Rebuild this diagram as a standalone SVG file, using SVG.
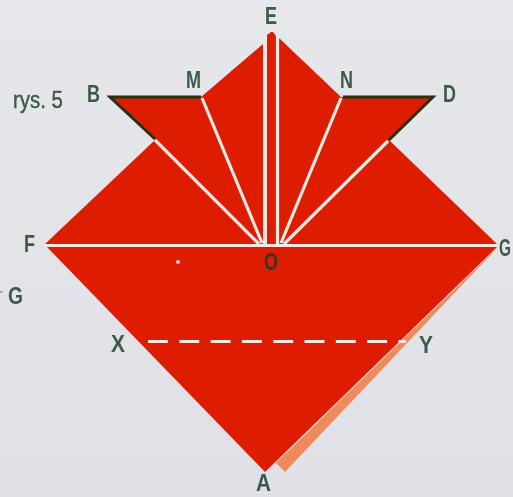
<svg xmlns="http://www.w3.org/2000/svg" width="513" height="497" viewBox="0 0 513 497">
<defs>
<filter id="soft" x="-5%" y="-5%" width="110%" height="110%"><feGaussianBlur stdDeviation="0.55"/></filter>
<linearGradient id="bg" x1="0" y1="0" x2="0" y2="1"><stop offset="0" stop-color="#e6e7eb"/><stop offset="1" stop-color="#e0e0e6"/></linearGradient>
</defs>
<style>
.fold{stroke:#efe9e6;stroke-width:3.2;fill:none}
.edge{stroke:#263216;stroke-width:3;fill:none}
.lb{font-family:"Liberation Sans",Arial,sans-serif;font-weight:700;font-size:23px;fill:#3d5a4a}
</style>
<rect width="513" height="497" fill="url(#bg)"/>
<g filter="url(#soft)">
<g id="paper">
<polygon points="285,472 497,248 276,463" fill="#ee8a5c"/>
<polygon points="45,244 155,140 109,97 201,97 263,44 263,244 279,244 279,38 341,97 434,97 389,140 497,244" fill="#de1c00"/>
<polygon points="267,244 267,35 271,32 273,32 276,36 276,244" fill="#de1c00"/>
<polygon points="47,247 497,247 265,472" fill="#de1c00"/>
</g>
<g id="connectors">
<line class="fold" x1="44" y1="245.500" x2="497" y2="245.500" stroke-width="4"/>
<line class="fold" x1="265" y1="36" x2="265" y2="245" stroke-width="3.600"/>
<line class="fold" x1="277.500" y1="36" x2="277.500" y2="245" stroke-width="3.600"/>
<line class="fold" x1="202" y1="98" x2="262" y2="243"/>
<line class="fold" x1="155" y1="140" x2="259" y2="244"/>
<line class="fold" x1="341" y1="98" x2="281" y2="243"/>
<line class="fold" x1="388" y1="141" x2="284" y2="244"/>
<line class="fold" x1="148" y1="341.500" x2="406" y2="341.500" stroke-width="3" stroke-dasharray="20 11.300"/>
<polyline class="edge" points="155,139 110,97 201,97"/>
<polyline class="edge" points="343,97 433,97 389,140"/>
</g>
<circle cx="178" cy="262" r="2" fill="#f3d4c4"/>
<rect x="0" y="291" width="2.500" height="1.500" fill="#e96a30"/>
</g>
<g filter="url(#soft)">
<g id="label-rys"><text class="lb" x="13" y="108" textLength="50" lengthAdjust="spacingAndGlyphs" style="font-weight:400;stroke:#3d5a4a;stroke-width:.4px">rys. 5</text></g>
<g id="node-B"><text class="lb" x="87" y="102" textLength="13" lengthAdjust="spacingAndGlyphs">B</text></g>
<g id="node-M"><text class="lb" x="186" y="88" textLength="15" lengthAdjust="spacingAndGlyphs">M</text></g>
<g id="node-E"><text class="lb" x="265" y="24" textLength="12" lengthAdjust="spacingAndGlyphs">E</text></g>
<g id="node-N"><text class="lb" x="340" y="88" textLength="13" lengthAdjust="spacingAndGlyphs">N</text></g>
<g id="node-D"><text class="lb" x="443" y="102" textLength="13" lengthAdjust="spacingAndGlyphs">D</text></g>
<g id="node-F"><text class="lb" x="24" y="252" textLength="11" lengthAdjust="spacingAndGlyphs">F</text></g>
<g id="node-O"><text class="lb" x="264" y="270" textLength="14" lengthAdjust="spacingAndGlyphs" style="fill:#2e3a22">O</text></g>
<g id="node-G-right"><text class="lb" x="499" y="256" textLength="12" lengthAdjust="spacingAndGlyphs">G</text></g>
<g id="node-G-left"><text class="lb" x="8" y="304" textLength="15" lengthAdjust="spacingAndGlyphs">G</text></g>
<g id="node-X"><text class="lb" x="111" y="352" textLength="14" lengthAdjust="spacingAndGlyphs">X</text></g>
<g id="node-Y"><text class="lb" x="419" y="353" textLength="14" lengthAdjust="spacingAndGlyphs">Y</text></g>
<g id="node-A"><text class="lb" x="256" y="491" textLength="15" lengthAdjust="spacingAndGlyphs">A</text></g>
</g>
</svg>
